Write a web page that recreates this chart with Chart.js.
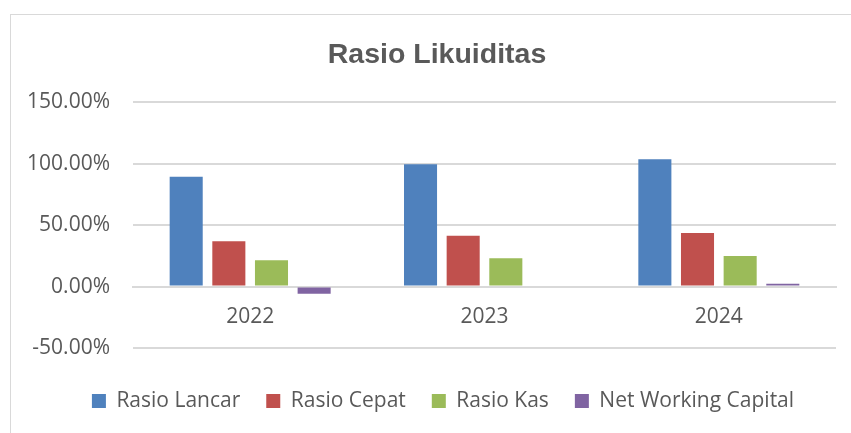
<!DOCTYPE html>
<html>
<head>
<meta charset="utf-8">
<title>Rasio Likuiditas</title>
<script src="https://cdn.jsdelivr.net/npm/chart.js@4/dist/chart.umd.min.js"></script>
<style>
  html, body { margin: 0; padding: 0; background: #fff; }
  #wrap { position: relative; width: 851px; height: 433px; overflow: hidden; }
  #frame {
    position: absolute; left: 10px; top: 14px; width: 900px; height: 500px;
    border-left: 1px solid #d9d9d9; border-top: 1px solid #d9d9d9;
  }
  #chart { position: absolute; left: 0; top: 0; }
</style>
</head>
<body>
<div id="wrap">
  <div id="frame"></div>
  <canvas id="chart" width="851" height="433"></canvas>
</div>
<script>
'use strict';
// data (percent)
let years = ['2022', '2023', '2024'];
let rasioLancar = [89.3, 99.5, 103.6];
let rasioCepat = [36.9, 41.4, 43.6];
let rasioKas = [21.5, 23.1, 24.8];
let netWorkingCapital = [-5.9, 0, 2.2];

let yTicks = [-50, 0, 50, 100, 150];

let seriesNames = ['Rasio Lancar', 'Rasio Cepat', 'Rasio Kas', 'Net Working Capital'];
let seriesColors = ['#4f81bd', '#c0504d', '#9bbb59', '#8064a2'];
let seriesValues = [rasioLancar, rasioCepat, rasioKas, netWorkingCapital];

let textColor = '#595959';
let gridColor = '#d9d9d9';
let tickFont = { family: 'Open Sans', size: 21 };

// build datasets
let datasets = [];
for (let i = 0; i < seriesNames.length; i++) {
  datasets.push({
    label: seriesNames[i],
    data: seriesValues[i],
    backgroundColor: seriesColors[i],
    borderWidth: 0,
    barPercentage: 0.775,
    categoryPercentage: 0.728
  });
}

// title and legend sit a bit right of centre in the original
const shiftBlocks = {
  id: 'shiftBlocks',
  afterLayout: function (chart) {
    chart.titleBlock.left += 14;
    chart.titleBlock.right += 14;
    chart.legend.left += 20;
    chart.legend.right += 20;
  }
};

const ctx = document.getElementById('chart').getContext('2d');
const myChart = new Chart(ctx, {
  type: 'bar',
  data: {
    labels: years,
    datasets: datasets
  },
  plugins: [shiftBlocks],
  options: {
    responsive: false,
    animation: false,
    layout: {
      padding: { left: 10, right: 15, top: 38, bottom: 11.5 }
    },
    plugins: {
      title: {
        display: true,
        text: 'Rasio Likuiditas',
        color: textColor,
        font: { family: 'Liberation Sans', size: 28.5, weight: 'bold' },
        padding: { top: 0, bottom: 30 }
      },
      legend: {
        position: 'bottom',
        // empty legend title only used as a spacer above the items
        title: {
          display: true,
          text: ' ',
          font: { size: 10 },
          padding: { top: 0, bottom: 4.5 }
        },
        labels: {
          color: textColor,
          font: tickFont,
          boxWidth: 14,
          boxHeight: 14,
          padding: 26
        }
      },
      tooltip: { enabled: false }
    },
    scales: {
      x: {
        position: { y: 0 },
        grid: { display: false },
        border: { display: true, color: gridColor, width: 2 },
        ticks: { color: textColor, font: tickFont, padding: 10 }
      },
      y: {
        min: yTicks[0],
        max: yTicks[yTicks.length - 1],
        afterBuildTicks: function (scale) {
          scale.ticks = yTicks.map(function (v) { return { value: v }; });
        },
        afterFit: function (scale) {
          scale.width = 123;
        },
        grid: { color: gridColor, lineWidth: 2, drawTicks: false },
        border: { display: false },
        ticks: {
          color: textColor,
          font: tickFont,
          padding: 23,
          callback: function (value) {
            return value.toFixed(2) + '%';
          }
        }
      }
    }
  }
});
console.log(myChart.chartArea);
</script>
</body>
</html>
